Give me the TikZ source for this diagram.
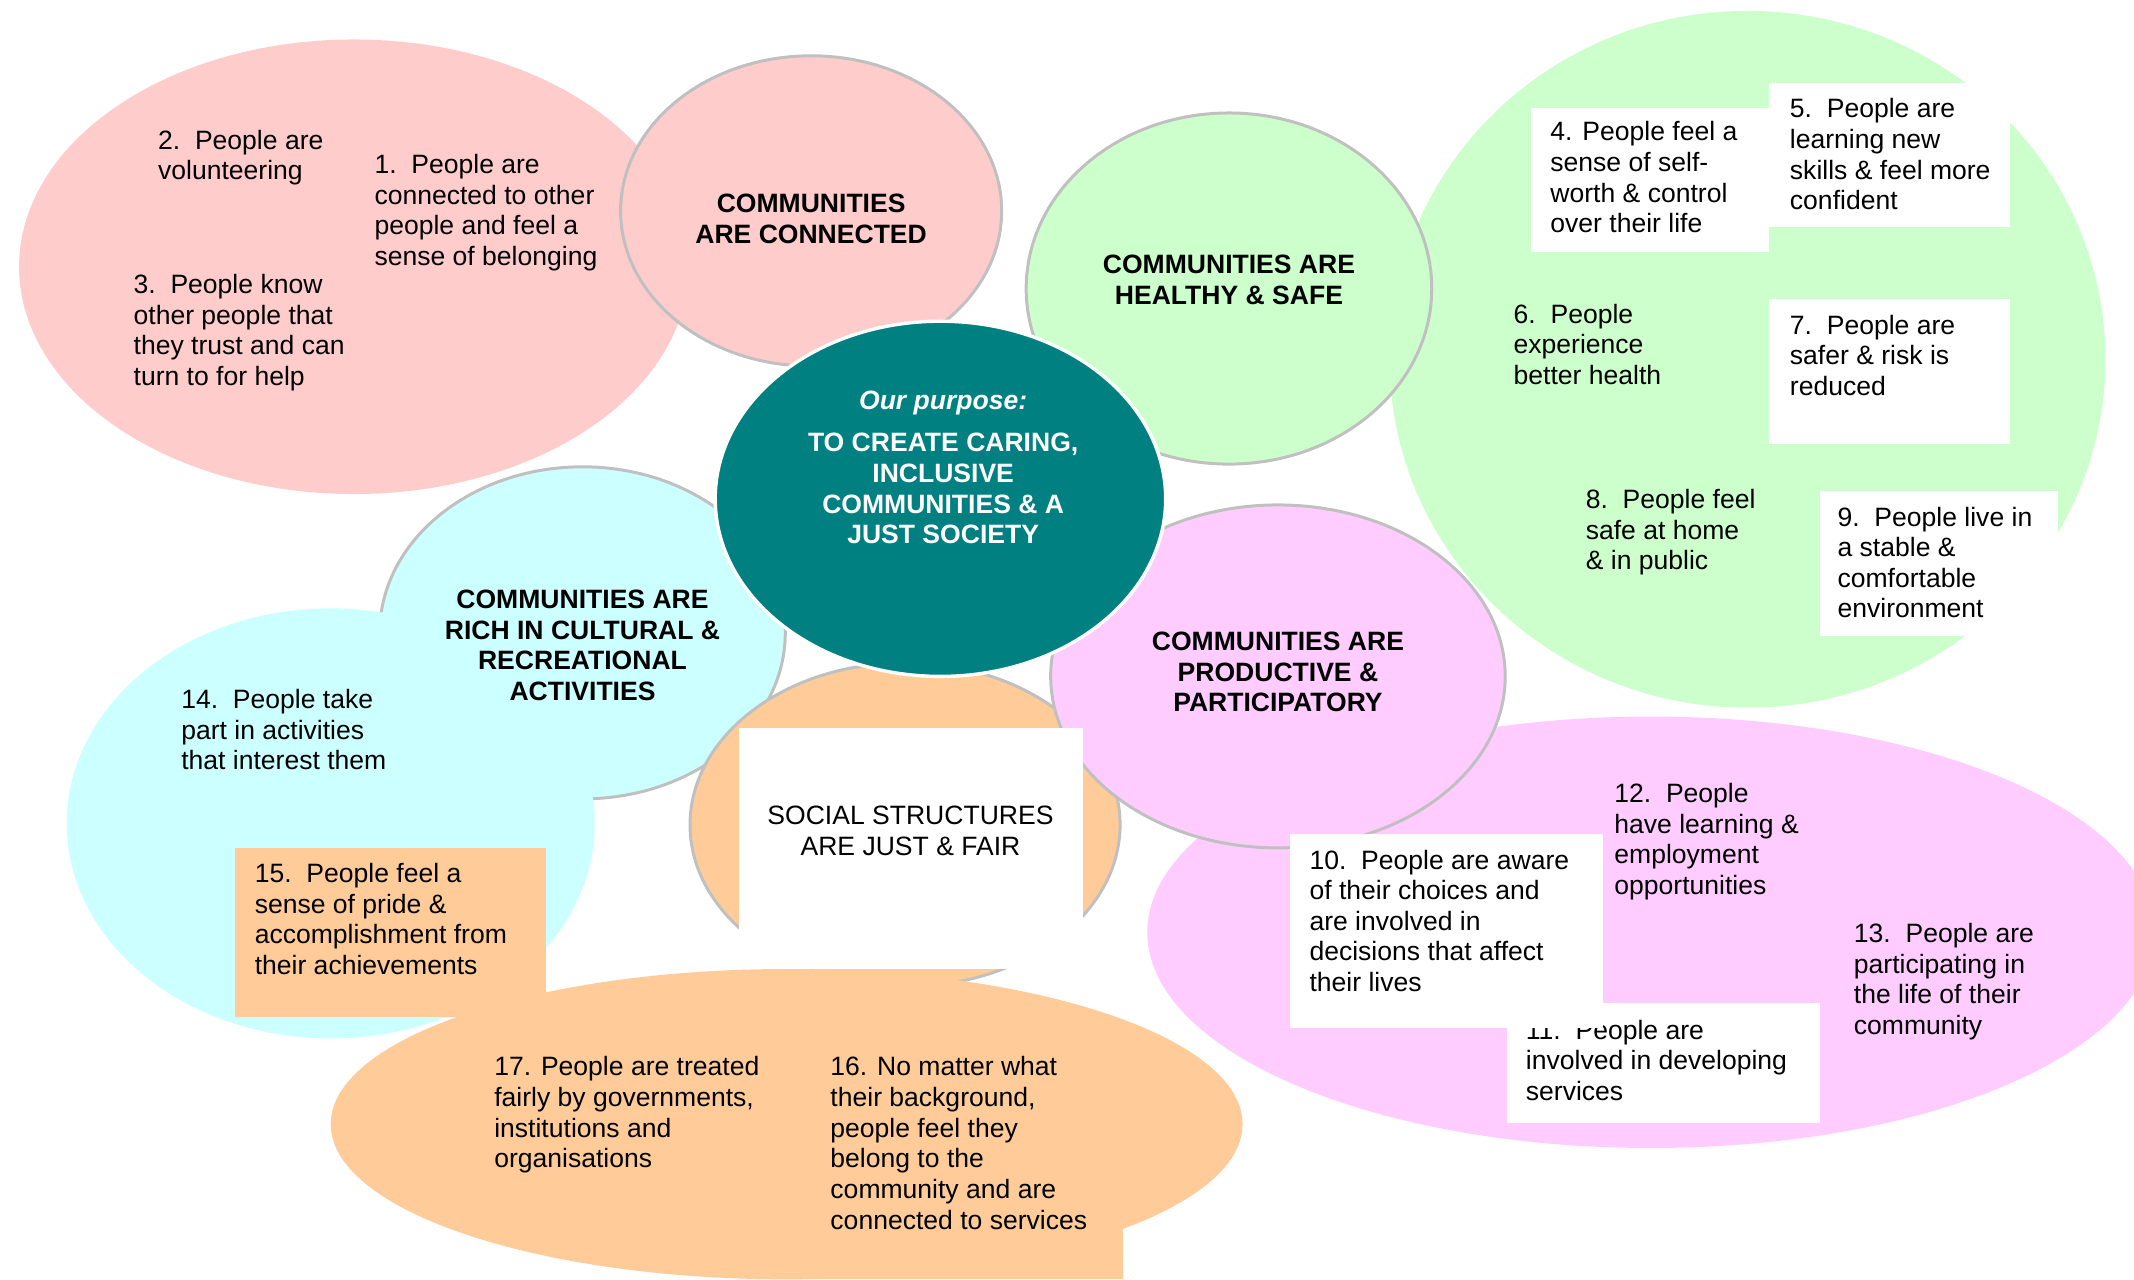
\documentclass[tikz,border=0pt]{standalone}
\usepackage{fontspec}
\setmainfont{Liberation Sans}
\usetikzlibrary{shapes.geometric}
\definecolor{pinkF}{HTML}{FFCCCC}
\definecolor{greenF}{HTML}{CCFFCC}
\definecolor{magF}{HTML}{FFCCFF}
\definecolor{cyanF}{HTML}{CCFFFF}
\definecolor{orangeF}{HTML}{FFCC99}
\definecolor{tealF}{HTML}{008080}
\definecolor{rimC}{HTML}{C0C0C0}
\begin{document}
\begin{tikzpicture}[x=1pt,y=-1pt,
  blob/.style={ellipse, inner sep=0pt, outer sep=0pt, draw=none},
  hub/.style={ellipse, inner sep=0pt, outer sep=0pt, draw=rimC, line width=2.2pt},
  card/.style={rectangle, anchor=north west, inner sep=0pt, outer sep=0pt, draw=none, fill=white},
  txt/.style={anchor=north west, inner sep=0pt, align=left, yshift=7.75pt,
    font=\fontsize{19.5}{22.5}\selectfont, execute at begin node=\strut},
  ttl/.style={anchor=north, inner sep=0pt, align=center, yshift=7.75pt,
    font=\fontsize{19.5}{22.5}\selectfont\bfseries, execute at begin node=\strut},
]
\useasboundingbox (0,0) rectangle (1568,940);
\clip (0,0) rectangle (1568,940);

% pink group
\node[blob, fill=pinkF, minimum width=492pt, minimum height=334pt] (pinkbig) at (260,196) {};
\node[hub, fill=pinkF, minimum width=280pt, minimum height=228pt] (connected) at (596,155) {};
% green group
\node[blob, fill=greenF, minimum width=526pt, minimum height=512pt] (greenbig) at (1284,264) {};
\node[hub, fill=greenF, minimum width=298pt, minimum height=258pt] (healthy) at (903,212) {};
% magenta big
\node[blob, fill=magF, minimum width=740pt, minimum height=317pt] (magbig) at (1213,685) {};
% cyan group
\node[hub, fill=cyanF, minimum width=298pt, minimum height=244pt] (cultural) at (428,465) {};
\node[blob, fill=cyanF, minimum width=388pt, minimum height=316pt] (cyanbig) at (243,605) {};
% justice
\node[hub, fill=orangeF, minimum width=316pt, minimum height=238pt] (justice) at (665,606) {};
% productive
\node[hub, fill=magF, minimum width=334pt, minimum height=252pt] (productive) at (939,497) {};
% centre
\node[ellipse, inner sep=0pt, fill=tealF, draw=white, line width=2.5pt, minimum width=331pt, minimum height=261pt] (purpose) at (691,366.5) {};

% white cards
\node[card, minimum width=175pt, minimum height=106pt] (c4) at (1125,79) {};
\node[card, minimum width=177pt, minimum height=106pt] (c5) at (1300,61) {};
\node[card, minimum width=177pt, minimum height=106pt] (c7) at (1300,220) {};
\node[card, minimum width=175pt, minimum height=106pt] (c9) at (1337,361) {};
\node[card, minimum width=253pt, minimum height=177pt] (csocial) at (543,535) {};
\node[card, minimum width=230pt, minimum height=88pt] (c11) at (1107,737) {};
\node[txt] (t11) at (1121,757) {11.~~People are\\involved in developing\\services};
\node[card, minimum width=230pt, minimum height=142pt] (c10) at (948,613) {};

% orange group
\node[blob, fill=orangeF, minimum width=670pt, minimum height=228pt] (orangebig) at (578,826) {};
\node[card, fill=orangeF, minimum width=225pt, minimum height=70pt] (c16) at (600,870) {};
\node[card, fill=orangeF, minimum width=228.5pt, minimum height=124pt] (c15) at (172.5,623) {};

% titles
\node[ttl] (hconnected) at (596,150) {COMMUNITIES\\ARE CONNECTED};
\node[ttl, text=white, font=\fontsize{19.5}{22.5}\selectfont\bfseries\itshape] (hpurpose) at (693,293) {Our purpose:};
\node[ttl, text=white] (hmission) at (693,326) {TO CREATE CARING,\\INCLUSIVE\\COMMUNITIES \& A\\JUST SOCIETY};
\node[ttl] (hhealthy) at (903,195) {COMMUNITIES ARE\\HEALTHY \& SAFE};
\node[ttl] (hproductive) at (939,472) {COMMUNITIES ARE\\PRODUCTIVE \&\\PARTICIPATORY};
\node[ttl] (hcultural) at (428,441) {COMMUNITIES ARE\\RICH IN CULTURAL \&\\RECREATIONAL\\ACTIVITIES};
\node[ttl, font=\fontsize{19.5}{22.5}\selectfont] (hsocial) at (669,600) {SOCIAL STRUCTURES\\ARE JUST \& FAIR};

% outcome texts
\node[txt] (t1) at (275,121) {1.~~People are\\connected to other\\people and feel a\\sense of belonging};
\node[txt] (t2) at (116,103) {2.~~People are\\volunteering};
\node[txt] (t3) at (98,209) {3.~~People know\\other people that\\they trust and can\\turn to for help};
\node[txt] (t4) at (1139,97) {4. People feel a\\sense of self-\\worth \& control\\over their life};
\node[txt] (t5) at (1315,80) {5.~~People are\\learning new\\skills \& feel more\\confident};
\node[txt] (t6) at (1112,231) {6.~~People\\experience\\better health};
\node[txt] (t7) at (1315,239) {7.~~People are\\safer \& risk is\\reduced};
\node[txt] (t8) at (1165,367) {8.~~People feel\\safe at home\\\& in public};
\node[txt] (t9) at (1350,380) {9.~~People live in\\a stable \&\\comfortable\\environment};
\node[txt] (t10) at (962,632) {10.~~People are aware\\of their choices and\\are involved in\\decisions that affect\\their lives};
\node[txt] (t12) at (1186,583) {12.~~People\\have learning \&\\employment\\opportunities};
\node[txt] (t13) at (1362,686) {13.~~People are\\participating in\\the life of their\\community};
\node[txt] (t14) at (133,514) {14.~~People take\\part in activities\\that interest them};
\node[txt] (t15) at (187,642) {15.~~People feel a\\sense of pride \&\\accomplishment from\\their achievements};
\node[txt] (t16) at (610,784) {16. No matter what\\their background,\\people feel they\\belong to the\\community and are\\connected to services};
\node[txt] (t17) at (363,784) {17. People are treated\\fairly by governments,\\institutions and\\organisations};
\end{tikzpicture}
\end{document}
